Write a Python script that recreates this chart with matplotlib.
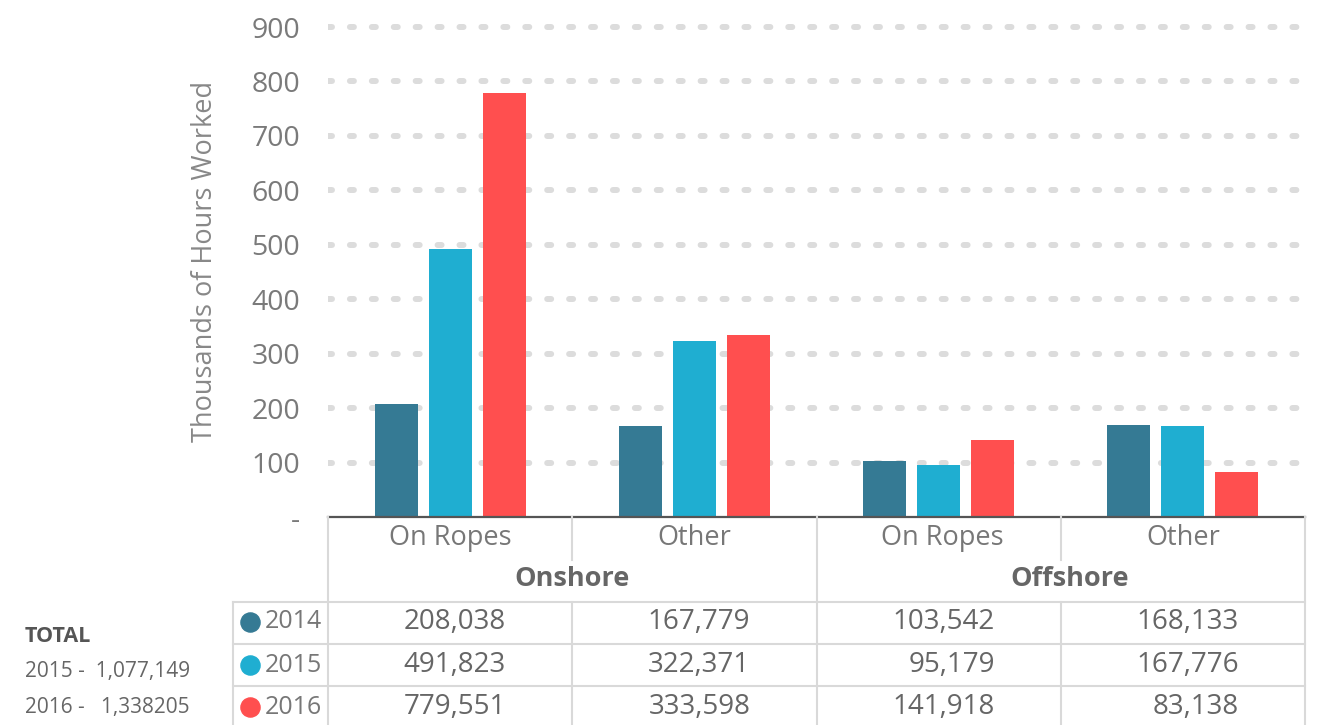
import matplotlib
matplotlib.use("Agg")
import matplotlib.pyplot as plt
import numpy as np

plt.rcParams['font.family'] = ['Open Sans', 'DejaVu Sans']

categories = ["On Ropes", "Other", "On Ropes", "Other"]
groups = ["Onshore", "Offshore"]
years = ["2014", "2015", "2016"]
hours_2014 = [208038, 167779, 103542, 168133]
hours_2015 = [491823, 322371, 95179, 167776]
hours_2016 = [779551, 333598, 141918, 83138]
totals = ["TOTAL", "2015 -  1,077,149", "2016 -   1,338205"]
yticks = [0, 100, 200, 300, 400, 500, 600, 700, 800, 900]
ytick_labels = ["-"] + [str(t) for t in yticks[1:]]

colors = ["#357A94", "#1FAED1", "#FF4F4F"]
series = [hours_2014, hours_2015, hours_2016]

W, H = 1319, 725
fig = plt.figure(figsize=(W / 100, H / 100), dpi=100)

# main axes: x 328..1305 px, y 20..517 px
ax_l, ax_r, ax_t, ax_b = 328, 1305, 20, 517
ax = fig.add_axes([ax_l / W, 1 - ax_b / H, (ax_r - ax_l) / W, (ax_b - ax_t) / H])
ymax = 900 * (ax_b - ax_t) / (ax_b - 27)
ax.set_xlim(-0.5, 3.5)
ax.set_ylim(0, ymax)

x = np.arange(len(categories))
step = 0.221
width = 0.176
for i, (vals, c) in enumerate(zip(series, colors)):
	ax.bar(x + (i - 1) * step, np.array(vals) / 1000.0, width=width, color=c, zorder=3)

for t in yticks[1:]:
	ax.axhline(t, color="#dcdcdc", lw=4.3, dashes=(0.67, 3.0),
			dash_capstyle='round', zorder=1)

ax.set_yticks(yticks)
ax.set_yticklabels(ytick_labels)
ax.tick_params(axis='y', length=0, pad=20, labelsize=20.5, labelcolor="#7a7a7a")
ax.set_xticks([])
for s in ["top", "right", "left"]:
	ax.spines[s].set_visible(False)
ax.spines["bottom"].set_color("#555555")
ax.spines["bottom"].set_linewidth(1.6)
ax.spines["bottom"].set_zorder(4)

ax.set_ylabel("Thousands of Hours Worked", fontsize=19.5, color="#888888")
ax.yaxis.set_label_coords((219 - ax_l) / (ax_r - ax_l), (ax_b - 261) / (ax_b - ax_t))

# table below the chart, in pixel-like units for y and category units for x
unit = (ax_r - ax_l) / 4.0
tb_l = 233
tx0 = -0.5 - (ax_l - tb_l) / unit
tab = fig.add_axes([tb_l / W, 0, (ax_r - tb_l) / W, (H - ax_b) / H])
tab.set_xlim(tx0, 3.5)
tab.set_ylim(H, ax_b)
tab.axis("off")

grid_c = "#d9d9d9"
row_tops = [602, 644, 686, 725]
for yv in row_tops[:-1]:
	tab.plot([tx0, 3.5], [yv, yv], color=grid_c, lw=1.5, clip_on=False)
tab.plot([tx0, tx0], [602, 725], color=grid_c, lw=1.5, clip_on=False)
for xv in [-0.5, 1.5, 3.5]:
	tab.plot([xv, xv], [ax_b, 725], color=grid_c, lw=1.5, clip_on=False)
for xv in [0.5, 2.5]:
	tab.plot([xv, xv], [ax_b, 560], color=grid_c, lw=1.5, clip_on=False)
	tab.plot([xv, xv], [602, 725], color=grid_c, lw=1.5, clip_on=False)

cat_shift = [0, 0, 4, 0]
for i, cat in enumerate(categories):
	tab.text(i + cat_shift[i] / unit, 538, cat, ha='center', va='center',
			fontsize=19.5, color="#777777")
grp_shift = [0, 9]
for g, name in enumerate(groups):
	tab.text(2 * g + 0.5 + grp_shift[g] / unit, 579, name, ha='center', va='center',
			fontsize=19.5, color="#666666", fontweight='bold')

row_mid = [622, 665, 707]
for r, (yr, vals, c) in enumerate(zip(years, series, colors)):
	tab.scatter([tx0 + 17 / unit], [row_mid[r]], s=190, color=c, clip_on=False)
	tab.text(tx0 + 32 / unit, row_mid[r], yr, ha='left', va='center', fontsize=18,
			color="#777777")
	for i, v in enumerate(vals):
		tab.text(i + 56 / unit, row_mid[r], f"{v:,}", ha='right', va='center',
				fontsize=20, color="#666666")

fig.text(25 / W, 1 - 637 / H, totals[0], ha='left', va='center', fontsize=15.5,
		color="#555555", fontweight='bold')
fig.text(25 / W, 1 - 672 / H, totals[1], ha='left', va='center', fontsize=15,
		color="#666666")
fig.text(25 / W, 1 - 707 / H, totals[2], ha='left', va='center', fontsize=15,
		color="#666666")

fig.savefig("out.png", dpi=100)
